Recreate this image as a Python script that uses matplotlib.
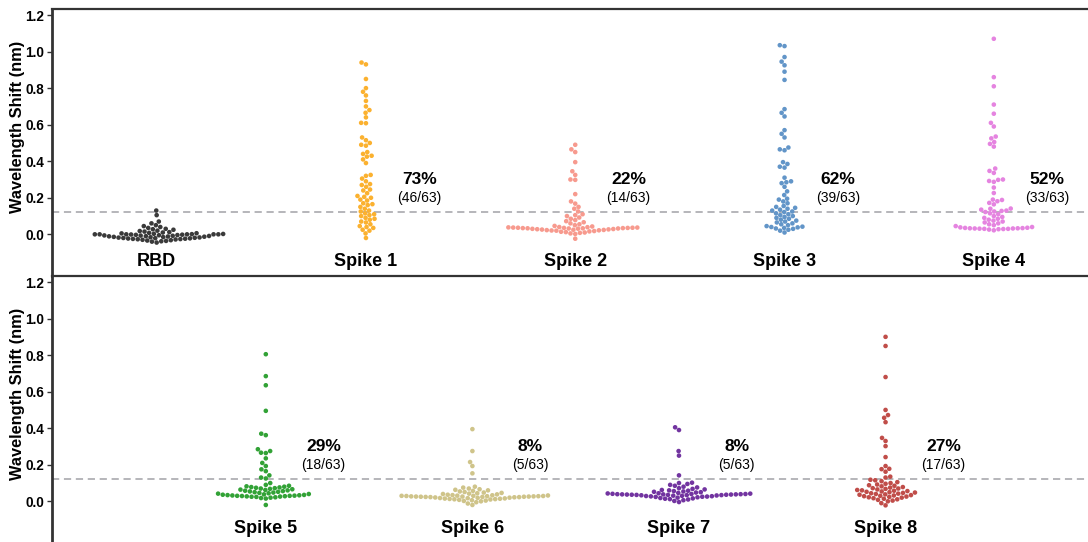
import matplotlib

matplotlib.use("Agg")
import matplotlib.pyplot as plt
import pandas as pd
import seaborn as sns

plt.rcParams["font.family"] = ["Liberation Sans", "DejaVu Sans"]

# groups per panel
top_groups = ["RBD", "Spike 1", "Spike 2", "Spike 3", "Spike 4"]
bottom_groups = ["Spike 5", "Spike 6", "Spike 7", "Spike 8"]

# wavelength shifts (nm), 63 sera per antigen
rbd = [0.13, 0.105, 0.07, 0.06, 0.05, 0.045, 0.04, 0.035, 0.03, 0.028,
       0.025, 0.02, 0.018, 0.015, 0.012, 0.01, 0.008, 0.006, 0.005, 0.003,
       0.002, 0.001, 0.0, 0.0, 0.0, 0.0, 0.0, 0.0, -0.001, -0.002,
       -0.003, -0.004, -0.005, -0.006, -0.007, -0.008, -0.009, -0.01, -0.011, -0.012,
       -0.013, -0.014, -0.015, -0.016, -0.017, -0.018, -0.019, -0.02, -0.021, -0.022,
       -0.023, -0.024, -0.025, -0.026, -0.027, -0.028, -0.03, -0.032, -0.034, -0.036,
       -0.038, -0.04, -0.045]
spike1 = [0.94, 0.93, 0.85, 0.80, 0.78, 0.76, 0.73, 0.70, 0.68, 0.665,
          0.64, 0.61, 0.608, 0.53, 0.515, 0.50, 0.49, 0.485, 0.45, 0.44,
          0.43, 0.425, 0.41, 0.39,
          0.325, 0.32, 0.305, 0.29, 0.275, 0.27, 0.26, 0.245, 0.24, 0.225,
          0.21, 0.205, 0.2, 0.19, 0.185, 0.17, 0.165, 0.16, 0.15, 0.14,
          0.13, 0.125,
          0.115, 0.11, 0.105, 0.1, 0.09, 0.085, 0.08, 0.07, 0.065, 0.055,
          0.045, 0.04, 0.035, 0.025, 0.02, 0.005, -0.02]
spike2 = [0.49, 0.465, 0.45, 0.395, 0.345, 0.325, 0.30, 0.298, 0.22, 0.18,
          0.168, 0.15, 0.14, 0.125,
          0.11, 0.105, 0.1, 0.092, 0.085, 0.078, 0.072, 0.066, 0.06, 0.055,
          0.05, 0.046, 0.043, 0.04, 0.039, 0.038, 0.037, 0.037, 0.036, 0.036,
          0.035, 0.035, 0.034, 0.034, 0.033, 0.033, 0.032, 0.032, 0.031, 0.03,
          0.029, 0.028, 0.027, 0.026, 0.025, 0.024, 0.023, 0.022, 0.021, 0.02,
          0.018, 0.016, 0.014, 0.012, 0.01, 0.008, 0.005, 0.002, -0.024]
spike3 = [1.035, 1.03, 0.97, 0.945, 0.925, 0.89, 0.845, 0.685, 0.665, 0.645,
          0.57, 0.55, 0.53, 0.475, 0.465, 0.46, 0.395, 0.385, 0.37, 0.365,
          0.31, 0.29, 0.285, 0.28, 0.26, 0.235, 0.215, 0.195, 0.19, 0.18,
          0.17, 0.155, 0.15, 0.145, 0.14, 0.135, 0.13, 0.125, 0.122,
          0.115, 0.11, 0.105, 0.1, 0.095, 0.09, 0.085, 0.08, 0.075, 0.07,
          0.065, 0.06, 0.055, 0.05, 0.045, 0.042, 0.04, 0.038, 0.035, 0.032,
          0.03, 0.025, 0.02, 0.01]
spike4 = [1.07, 0.86, 0.81, 0.71, 0.66, 0.61, 0.59, 0.535, 0.525, 0.505,
          0.495, 0.48, 0.36, 0.347, 0.336, 0.30, 0.298, 0.292, 0.287, 0.256,
          0.226, 0.19, 0.188, 0.181, 0.172, 0.164, 0.141, 0.14, 0.135, 0.13,
          0.128, 0.125, 0.122,
          0.115, 0.11, 0.1, 0.095, 0.09, 0.085, 0.08, 0.075, 0.07, 0.065,
          0.06, 0.055, 0.05, 0.045, 0.04, 0.038, 0.036, 0.035, 0.034, 0.033,
          0.033, 0.032, 0.032, 0.031, 0.03, 0.03, 0.029, 0.028, 0.026, 0.022]
spike5 = [0.805, 0.685, 0.635, 0.495, 0.37, 0.362, 0.285, 0.275, 0.266, 0.264,
          0.235, 0.21, 0.193, 0.175, 0.165, 0.142, 0.13, 0.125,
          0.1, 0.09, 0.085, 0.082, 0.08, 0.078, 0.076, 0.074, 0.072, 0.07,
          0.068, 0.066, 0.064, 0.062, 0.06, 0.058, 0.056, 0.054, 0.052, 0.05,
          0.048, 0.046, 0.044, 0.042, 0.04, 0.038, 0.036, 0.035, 0.034, 0.033,
          0.032, 0.031, 0.03, 0.03, 0.029, 0.028, 0.027, 0.026, 0.025, 0.024,
          0.022, 0.02, 0.018, 0.015, -0.02]
spike6 = [0.395, 0.275, 0.215, 0.193, 0.153,
          0.08, 0.075, 0.07, 0.066, 0.063, 0.06, 0.057, 0.054, 0.051, 0.048,
          0.046, 0.044, 0.042, 0.04, 0.038, 0.036, 0.034, 0.033, 0.032, 0.031,
          0.03, 0.03, 0.029, 0.029, 0.028, 0.028, 0.027, 0.027, 0.026, 0.026,
          0.026, 0.025, 0.025, 0.024, 0.024, 0.023, 0.023, 0.022, 0.021, 0.02,
          0.019, 0.018, 0.017, 0.016, 0.015, 0.014, 0.013, 0.012, 0.011, 0.01,
          0.008, 0.006, 0.004, 0.002, 0.0, -0.005, -0.012, -0.02]
spike7 = [0.405, 0.39, 0.275, 0.25, 0.142,
          0.102, 0.1, 0.095, 0.09, 0.085, 0.08, 0.076, 0.072, 0.068, 0.065,
          0.062, 0.06, 0.058, 0.056, 0.054, 0.052, 0.05, 0.048, 0.046, 0.044,
          0.043, 0.042, 0.041, 0.04, 0.04, 0.039, 0.039, 0.038, 0.038, 0.038,
          0.037, 0.037, 0.036, 0.036, 0.035, 0.035, 0.034, 0.034, 0.033, 0.032,
          0.031, 0.03, 0.029, 0.028, 0.027, 0.026, 0.025, 0.024, 0.022, 0.02,
          0.018, 0.016, 0.014, 0.012, 0.01, 0.006, 0.002, -0.004]
spike8 = [0.9, 0.85, 0.68, 0.5, 0.472, 0.457, 0.433, 0.347, 0.33, 0.302,
          0.242, 0.193, 0.178, 0.176, 0.162, 0.135, 0.13,
          0.118, 0.115, 0.11, 0.105, 0.1, 0.096, 0.092, 0.088, 0.085, 0.082,
          0.078, 0.075, 0.072, 0.07, 0.068, 0.065, 0.062, 0.06, 0.058, 0.056,
          0.054, 0.052, 0.05, 0.048, 0.046, 0.044, 0.042, 0.04, 0.038, 0.036,
          0.034, 0.032, 0.03, 0.028, 0.026, 0.024, 0.022, 0.02, 0.017, 0.014,
          0.011, 0.008, 0.004, 0.0, -0.01, -0.022]

top_values = [rbd, spike1, spike2, spike3, spike4]
bottom_values = [spike5, spike6, spike7, spike8]

# responder fraction labels (RBD has none)
top_pct = [None, "73%", "22%", "62%", "52%"]
top_frac = [None, "(46/63)", "(14/63)", "(39/63)", "(33/63)"]
bottom_pct = ["29%", "8%", "8%", "27%"]
bottom_frac = ["(18/63)", "(5/63)", "(5/63)", "(17/63)"]

colors = {
    "RBD": "#3a3a3a",
    "Spike 1": "#FBB12F",
    "Spike 2": "#F79A8E",
    "Spike 3": "#6295C8",
    "Spike 4": "#E584E0",
    "Spike 5": "#32A236",
    "Spike 6": "#CFC48A",
    "Spike 7": "#7234A0",
    "Spike 8": "#C04D49",
}

cutoff = 0.12
ylim = (-0.228, 1.233)


def draw_panel(ax, groups, values, pcts, fracs, xlim, text_dx):
    df = pd.DataFrame({
        "group": [g for g, v in zip(groups, values) for _ in v],
        "shift": [x for v in values for x in v],
    })
    sns.swarmplot(data=df, x="group", y="shift", hue="group", order=groups,
                  hue_order=groups, palette=colors, legend=False, size=3.3,
                  linewidth=0, ax=ax)
    ax.axhline(cutoff, color="#b0b0b4", lw=1.3, ls=(0, (4, 2.6)), zorder=0)
    for i, g in enumerate(groups):
        ax.text(i, -0.172, g, ha="center", va="baseline", fontsize=13,
                fontweight="bold")
        if pcts[i]:
            ax.text(i + text_dx, 0.30, pcts[i], ha="center", va="center",
                    fontsize=12.5, fontweight="bold")
            ax.text(i + text_dx, 0.197, fracs[i], ha="center", va="center",
                    fontsize=10)
    ax.set_xlim(*xlim)
    ax.set_ylim(*ylim)
    ax.set_xticks([])
    ax.set_xlabel("")
    ax.set_yticks([0.0, 0.2, 0.4, 0.6, 0.8, 1.0, 1.2])
    ax.set_yticklabels([f"{t:.1f}" for t in ax.get_yticks()], fontweight="bold",
                       fontsize=9.8)
    ax.tick_params(axis="y", length=3.5, width=1, color="#333333", pad=2)
    ax.set_ylabel("Wavelength Shift (nm)", fontsize=11.8, fontweight="bold")
    ax.yaxis.set_label_coords(-0.026, 0.56)
    ax.spines["right"].set_visible(False)
    ax.spines["bottom"].set_visible(False)
    ax.spines["left"].set_linewidth(2)
    ax.spines["left"].set_color("#333333")
    ax.spines["top"].set_linewidth(1.6)
    ax.spines["top"].set_color("#333333")


fig = plt.figure(figsize=(10.88, 5.42), dpi=100)
ax_top = fig.add_axes([0.0478, 0.4908, 0.9522, 0.4926])
ax_bot = fig.add_axes([0.0478, -0.0018, 0.9522, 0.4926])

draw_panel(ax_top, top_groups, top_values, top_pct, top_frac, (-0.5, 4.45), 0.255)
draw_panel(ax_bot, bottom_groups, bottom_values, bottom_pct, bottom_frac,
           (-1.035, 3.98), 0.28)

fig.savefig("out.png", dpi=100)
